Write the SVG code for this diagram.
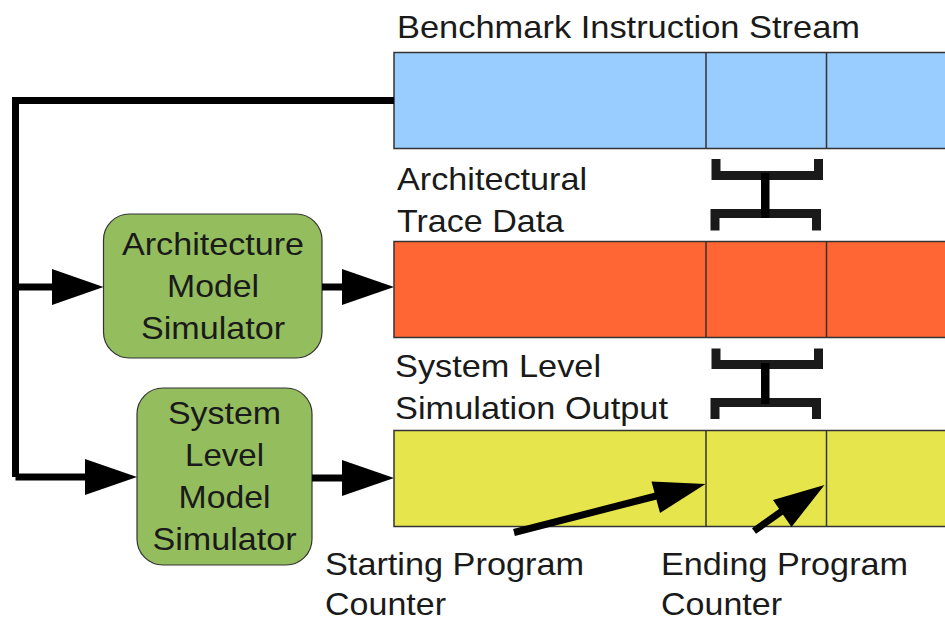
<svg xmlns="http://www.w3.org/2000/svg" width="945" height="622" viewBox="0 0 945 622">
  <style>
    text { font-family: "Liberation Sans", Arial, sans-serif; font-size: 32px; fill: #1a1a1a; }
    .mid { text-anchor: middle; }
    .bar { stroke: #333333; stroke-width: 1.5; }
    .sim { fill: #94bd5e; stroke: #333333; stroke-width: 1.2; }
    .wire { stroke: #000000; stroke-width: 7; fill: none; }
    .head { fill: #000000; }
    .brk { stroke: #1a1a1a; stroke-width: 9; fill: none; stroke-linejoin: miter; }
  </style>

  <!-- instruction / trace / output streams -->
  <g id="stream-benchmark">
    <rect class="bar" x="394" y="52.5" width="560" height="96" fill="#99ccff"/>
    <line class="bar" x1="706" y1="52.5" x2="706" y2="148.5"/>
    <line class="bar" x1="826.5" y1="52.5" x2="826.5" y2="148.5"/>
    <text x="397" y="37.5" textLength="463" lengthAdjust="spacingAndGlyphs">Benchmark Instruction Stream</text>
  </g>

  <g id="stream-trace">
    <rect class="bar" x="394" y="241.5" width="560" height="96" fill="#ff6633"/>
    <line class="bar" x1="706" y1="241.5" x2="706" y2="337.5"/>
    <line class="bar" x1="826.5" y1="241.5" x2="826.5" y2="337.5"/>
    <text x="397" y="190" textLength="190" lengthAdjust="spacingAndGlyphs">Architectural</text>
    <text x="397" y="232" textLength="167" lengthAdjust="spacingAndGlyphs">Trace Data</text>
  </g>

  <g id="stream-output">
    <rect class="bar" x="394" y="430.5" width="560" height="96" fill="#e6e64c"/>
    <line class="bar" x1="706" y1="430.5" x2="706" y2="526.5"/>
    <line class="bar" x1="826.5" y1="430.5" x2="826.5" y2="526.5"/>
    <text x="395" y="377" textLength="206" lengthAdjust="spacingAndGlyphs">System Level</text>
    <text x="395" y="419" textLength="273" lengthAdjust="spacingAndGlyphs">Simulation Output</text>
  </g>

  <!-- simulators -->
  <g id="arch-sim">
    <rect class="sim" x="103.5" y="214" width="218.5" height="144" rx="26" ry="26"/>
    <text class="mid" x="213" y="255" textLength="182" lengthAdjust="spacingAndGlyphs">Architecture</text>
    <text class="mid" x="213" y="297" textLength="92" lengthAdjust="spacingAndGlyphs">Model</text>
    <text class="mid" x="213" y="339" textLength="144" lengthAdjust="spacingAndGlyphs">Simulator</text>
  </g>

  <g id="sys-sim">
    <rect class="sim" x="137" y="388" width="175" height="177" rx="26" ry="26"/>
    <text class="mid" x="224.5" y="423.5" textLength="113" lengthAdjust="spacingAndGlyphs">System</text>
    <text class="mid" x="224.5" y="465.5" textLength="79" lengthAdjust="spacingAndGlyphs">Level</text>
    <text class="mid" x="224.5" y="508" textLength="92" lengthAdjust="spacingAndGlyphs">Model</text>
    <text class="mid" x="224.5" y="550" textLength="144" lengthAdjust="spacingAndGlyphs">Simulator</text>
  </g>

  <!-- interval brackets -->
  <g id="bracket-upper">
    <path class="brk" d="M716,159 V175.5 H818.5 V159"/>
    <path class="brk" d="M715,230.5 V213.5 H816.5 V230.5"/>
    <rect x="761" y="173" width="8.5" height="45" fill="#000000"/>
  </g>

  <g id="bracket-lower">
    <path class="brk" d="M716,348.5 V364.5 H818.5 V348.5"/>
    <path class="brk" d="M715,419 V402.5 H816.5 V419"/>
    <rect x="761" y="363" width="8.5" height="41" fill="#000000"/>
  </g>

  <!-- program counter labels -->
  <g id="label-start">
    <text x="325" y="575" textLength="259" lengthAdjust="spacingAndGlyphs">Starting Program</text>
    <text x="325" y="615" textLength="121" lengthAdjust="spacingAndGlyphs">Counter</text>
  </g>
  <g id="label-end">
    <text x="661" y="575" textLength="247" lengthAdjust="spacingAndGlyphs">Ending Program</text>
    <text x="661" y="615" textLength="121" lengthAdjust="spacingAndGlyphs">Counter</text>
  </g>

  <!-- connectors -->
  <g id="connectors">
    <polyline class="wire" points="394,100.5 15.5,100.5 15.5,477"/>
    <line class="wire" x1="15.5" y1="287" x2="60" y2="287"/>
    <polygon class="head" points="52,269 103.5,287 52,305"/>
    <line class="wire" x1="15.5" y1="477" x2="92" y2="477"/>
    <polygon class="head" points="85,459 137,477 85,495"/>
    <line class="wire" x1="322" y1="287" x2="350" y2="287"/>
    <polygon class="head" points="342,269 394,287 342,305"/>
    <line class="wire" x1="312" y1="478" x2="350" y2="478"/>
    <polygon class="head" points="342,460 394,478 342,496"/>
    <line class="wire" x1="514" y1="532.5" x2="660" y2="495"/>
    <polygon class="head" points="651.5,481.5 705.5,484 660,513"/>
    <line class="wire" x1="754" y1="531" x2="785" y2="509"/>
    <polygon class="head" points="773,500 824.5,485 791.5,527"/>
  </g>
</svg>
